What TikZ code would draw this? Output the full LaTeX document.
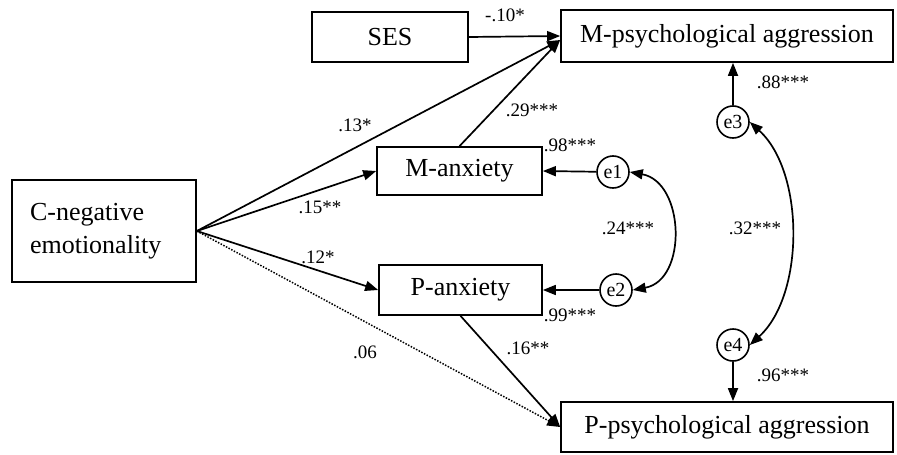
\documentclass[tikz,border=0pt]{standalone}
\usepackage{fontspec}
\setmainfont{Liberation Serif}
\usetikzlibrary{arrows.meta}

\tikzset{
  var/.style={draw, line width=1.7pt, minimum height=50pt, inner sep=0pt,
    font=\fontsize{26}{33}\selectfont},
  err/.style={draw, circle, line width=1.6pt, minimum size=32pt, inner sep=0pt,
    font=\fontsize{20}{22}\selectfont},
  coef/.style={inner sep=0pt, font=\fontsize{19}{22}\selectfont},
  eff/.style={->, line width=1.7pt},
  cov/.style={<->, line width=1.7pt}
}

\begin{document}
\begin{tikzpicture}[x=1pt, y=-1pt, >={Triangle[length=13pt,width=10pt]}]
  \useasboundingbox (0,0) rectangle (897,455);
  % observed variables
  \node[var, minimum width=156pt] (ses) at (390,37) {SES};
  \node[var, minimum width=332pt, minimum height=52pt] (mpa) at (727,36) {M-psychological aggression};
  \node[var, minimum width=165pt, minimum height=48pt] (manx) at (459.5,171) {M-anxiety};
  \node[var, minimum width=163pt] (panx) at (460.5,290) {P-anxiety};
  \node[var, minimum width=184pt, minimum height=102pt, text width=148pt, align=left] (cneg) at (104,231) {C-negative\\emotionality};
  \node[var, minimum width=332pt] (ppa) at (727,427) {P-psychological aggression};
  % residuals
  \node[err] (e1) at (613,172) {e1};
  \node[err] (e2) at (616,290) {e2};
  \node[err] (e3) at (733,122) {e3};
  \node[err] (e4) at (733,345) {e4};

  \draw[eff] (ses.east) -- (mpa.west);
  \draw[eff] (cneg.east) -- ([yshift=-4pt]mpa.west);
  \draw[eff] (cneg.east) -- (manx.west);
  \draw[eff] (cneg.east) -- (panx.west);
  \draw[eff, line width=1.5pt, dash pattern=on 1.5pt off 1.5pt] (cneg.east) -- (ppa.west);
  \draw[eff] (manx.north) -- ([yshift=-4pt]mpa.west);
  \draw[eff] (panx.south) -- (ppa.west);
  \draw[eff] (e1) -- (manx.east);
  \draw[eff] (e2) -- (panx.east);
  \draw[eff] (e3) -- (e3 |- mpa.south);
  \draw[eff] (e4) -- (e4 |- ppa.north);
  \draw[cov] (e1.east) .. controls +(55,10) and +(55,-10) .. (e2.east);
  \draw[cov] (e3.east) .. controls +(55,50) and +(55,-50) .. (e4.east);

  % coefficients
  \node[coef] (wses) at (505,15) {-.10*};
  \node[coef] (wcm) at (355,125) {.13*};
  \node[coef] (wcma) at (320,207) {.15**};
  \node[coef] (wmam) at (532,110) {.29***};
  \node[coef] (wcpa) at (318,257) {.12*};
  \node[coef] (wcp) at (365,352) {.06};
  \node[coef] (wpap) at (528,348) {.16**};
  \node[coef] (we1) at (570,145) {.98***};
  \node[coef] (we2) at (570,315) {.99***};
  \node[coef] (we3) at (783,82) {.88***};
  \node[coef] (we4) at (783,375) {.96***};
  \node[coef] (c12) at (628,228) {.24***};
  \node[coef] (c34) at (755,228) {.32***};
\end{tikzpicture}
\end{document}
